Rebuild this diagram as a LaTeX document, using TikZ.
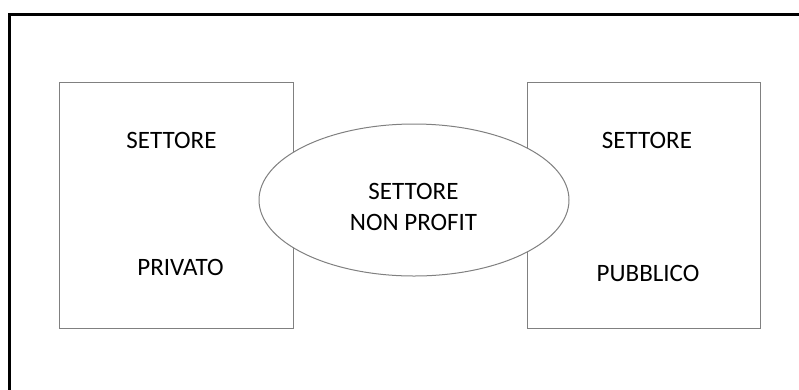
\documentclass[tikz,border=0pt]{standalone}
\usepackage{fontspec}
\setmainfont{Carlito}
\usetikzlibrary{shapes.geometric}
\begin{document}
\begin{tikzpicture}[x=1pt,y=-1pt,
  sector/.style={draw=black!50, line width=1pt, fill=white, inner sep=0pt},
  lbl/.style={inner sep=0pt, font=\fontsize{25}{31}\selectfont, text=black, align=center}]
  \useasboundingbox (0,0) rectangle (799,389);
  \clip (0,0) rectangle (799,389);
  % outer frame, running off the page on the right and bottom
  \draw[line width=3pt] (9.5,14) rectangle (830,420);
  % private and public sectors
  \node[sector, minimum width=234pt, minimum height=246pt] (priv) at (176,205) {};
  \node[sector, minimum width=233pt, minimum height=246pt] (pub) at (643.5,205) {};
  % non-profit sector overlapping both
  \node[sector, ellipse, minimum width=310pt, minimum height=152pt] (np) at (414,200) {};
  \node[lbl] (npt) at (413.5,206.5) {SETTORE\\NON PROFIT};
  \node[lbl] (privs) at (171.5,140) {SETTORE};
  \node[lbl] (privp) at (180.5,267) {PRIVATO};
  \node[lbl] (pubs) at (647,140) {SETTORE};
  \node[lbl] (pubp) at (648,273) {PUBBLICO};
\end{tikzpicture}
\end{document}
